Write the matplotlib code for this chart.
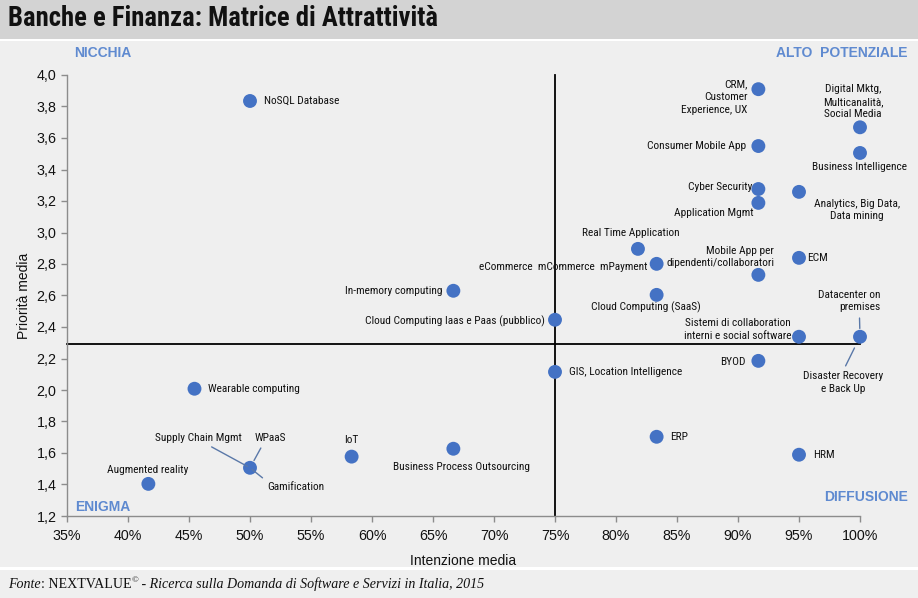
import matplotlib
matplotlib.use("Agg")
import matplotlib.pyplot as plt
from matplotlib.patches import Rectangle
from matplotlib.ticker import FuncFormatter, MultipleLocator
from matplotlib import font_manager as fm
from matplotlib.textpath import TextPath
from matplotlib.font_manager import FontProperties

# ---------------- data ----------------
names = [
    "NoSQL Database",
    "CRM,\nCustomer\nExperience, UX",
    "Digital Mktg,\nMulticanalità,\nSocial Media",
    "Consumer Mobile App",
    "Business Intelligence",
    "Cyber Security",
    "Application Mgmt",
    "Analytics, Big Data,\nData mining",
    "Real Time Application",
    "eCommerce  mCommerce  mPayment",
    "Mobile App per\ndipendenti/collaboratori",
    "ECM",
    "In-memory computing",
    "Cloud Computing (SaaS)",
    "Cloud Computing Iaas e Paas (pubblico)",
    "Sistemi di collaboration\ninterni e social software",
    "Datacenter on\npremises",
    "BYOD",
    "GIS, Location Intelligence",
    "Wearable computing",
    "ERP",
    "HRM",
    "Business Process Outsourcing",
    "IoT",
    "Augmented reality",
    "Supply Chain Mgmt",
]
intenzione = [50.0, 91.67, 100.0, 91.67, 100.0, 91.67, 91.67, 95.0, 81.8, 83.33,
              91.67, 95.0, 66.67, 83.33, 75.0, 95.0, 100.0, 91.67, 75.0, 45.45,
              83.33, 95.0, 66.67, 58.33, 41.67, 50.0]
priorita = [3.835, 3.91, 3.668, 3.549, 3.505, 3.276, 3.188, 3.258, 2.896, 2.801,
            2.731, 2.839, 2.63, 2.604, 2.446, 2.338, 2.338, 2.185, 2.115, 2.008,
            1.703, 1.589, 1.627, 1.577, 1.404, 1.506]
# extra labels sharing a point with another technology
shared_names = ["Disaster Recovery\ne Back Up", "WPaaS", "Gamification"]
shared_with = ["Datacenter on\npremises", "Supply Chain Mgmt", "Supply Chain Mgmt"]

media_intenzione = 75.0
media_priorita = 2.29

x_ticks = [35, 40, 45, 50, 55, 60, 65, 70, 75, 80, 85, 90, 95, 100]

# ---------------- layout (label offsets in pixels: dx, dy_up, ha) ----------------
label_layout = {
    "NoSQL Database": (14, 0, "left"),
    "CRM,\nCustomer\nExperience, UX": (-11, -8, "right"),
    "Digital Mktg,\nMulticanalità,\nSocial Media": (-7, 25.5, "center"),
    "Consumer Mobile App": (-12, 0, "right"),
    "Business Intelligence": (-1, -14, "center"),
    "Cyber Security": (-6, 2, "right"),
    "Application Mgmt": (-5, -10, "right"),
    "Analytics, Big Data,\nData mining": (58, -18, "center"),
    "Real Time Application": (-7, 16, "center"),
    "eCommerce  mCommerce  mPayment": (-9, -3, "right"),
    "Mobile App per\ndipendenti/collaboratori": (16, 18, "right"),
    "ECM": (8, 0, "left"),
    "In-memory computing": (-11, 0, "right"),
    "Cloud Computing (SaaS)": (-11, -12, "center"),
    "Cloud Computing Iaas e Paas (pubblico)": (-10, -1, "right"),
    "Sistemi di collaboration\ninterni e social software": (-8, 7, "right"),
    "Datacenter on\npremises": (20, 35.6, "right"),
    "BYOD": (-13, -1.5, "right"),
    "GIS, Location Intelligence": (14, 0, "left"),
    "Wearable computing": (14, 0, "left"),
    "ERP": (13, 0, "left"),
    "HRM": (14, 0, "left"),
    "Business Process Outsourcing": (8, -18, "center"),
    "IoT": (0, 17, "center"),
    "Augmented reality": (-1, 14, "center"),
    "Supply Chain Mgmt": (-52, 30, "center"),
    "Disaster Recovery\ne Back Up": (-17, -45.7, "center"),
    "WPaaS": (20, 30, "center"),
    "Gamification": (46, -19, "center"),
}
leaders = {  # relpos on text bbox, shrinkB
    "Datacenter on\npremises": ((0.67, 0.0), 6),
    "Disaster Recovery\ne Back Up": ((0.5, 1.0), 9),
    "Supply Chain Mgmt": ((0.57, 0.0), 2),
    "WPaaS": ((0.3, 0.0), 6),
    "Gamification": ((0.0, 1.0), 2),
}

W, H = 918, 598
BG = "#efefef"
BLUE = "#4472c4"
QBLUE = "#5f8ad0"
LEADER = "#5a78a8"

avail = {f.name for f in fm.fontManager.ttflist}
narrow_pref = ["Liberation Sans Narrow", "Arial Narrow", "Nimbus Sans Narrow",
               "Roboto Condensed", "Archivo Narrow", "PT Sans Narrow", "Liberation Sans"]
NARROW_NAME = next((f for f in narrow_pref if f in avail), "DejaVu Sans")
NARROW = [NARROW_NAME, "Liberation Sans", "DejaVu Sans"]
SANS = ["Liberation Sans", "DejaVu Sans"]
SERIF = ["Liberation Serif", "DejaVu Serif"]

fig = plt.figure(figsize=(W / 100, H / 100), dpi=100, facecolor=BG)
fig.canvas.draw()
r = fig.canvas.get_renderer()


def measure(text, fs, **kw):
    t = fig.text(0, 0, text, fontsize=fs, **kw)
    bb = t.get_window_extent(renderer=r)
    t.remove()
    return bb


def fit_size(text, target_px, **kw):
    return 10 * target_px / measure(text, 10, **kw).width


def cap_size(target_px, family, weight="normal"):
    tp = TextPath((0, 0), "H", size=10, prop=FontProperties(family=family, weight=weight))
    cap_pt = tp.get_extents().height  # cap height in points for a 10 pt font
    return 10 * (target_px * 0.72) / cap_pt


s_w = fit_size("Business Process Outsourcing", 132, family=NARROW)
s_h = cap_size(8.3, NARROW)
LABEL_FS = (s_w * s_h) ** 0.5
pitch1 = (measure("Ag\nAg", LABEL_FS, family=NARROW, linespacing=1.0).height
          - measure("Ag", LABEL_FS, family=NARROW, linespacing=1.0).height)
LINESP = 13.3 / pitch1
TITLE_FS = fit_size("Banche e Finanza: Matrice di Attrattività", 430, family=NARROW,
                    fontweight="bold")


def px(x, y):
    return x / W, 1 - y / H


# title bar
fig.patches.append(Rectangle((0, 1 - 39 / H), 1, 39 / H, transform=fig.transFigure,
                             facecolor="#d3d3d3", edgecolor="none", zorder=0))
fig.patches.append(Rectangle((0, 1 - 40.5 / H), 1, 1.5 / H, transform=fig.transFigure,
                             facecolor="white", edgecolor="none", zorder=0))
# footer separator
fig.patches.append(Rectangle((0, 1 - 570 / H), 1, 3 / H, transform=fig.transFigure,
                             facecolor="white", edgecolor="none", zorder=0))

fig.text(*px(8, 19), "Banche e Finanza: Matrice di Attrattività", family=NARROW,
         fontweight="bold", fontsize=TITLE_FS, ha="left", va="center", color="#111111")

ax = fig.add_axes([67 / W, 1 - 516 / H, (860 - 67) / W, (516 - 75) / H])
ax.set_facecolor(BG)
ax.set_xlim(35, 100)
ax.set_ylim(1.2, 4.0)
ax.set_xticks(x_ticks)
ax.xaxis.set_major_formatter(FuncFormatter(lambda v, p: f"{v:.0f}%"))
ax.yaxis.set_major_locator(MultipleLocator(0.2))
ax.yaxis.set_major_formatter(FuncFormatter(lambda v, p: f"{v:.1f}".replace(".", ",")))
for s in ["top", "right"]:
    ax.spines[s].set_visible(False)
for s in ["left", "bottom"]:
    ax.spines[s].set_color("#8c8c8c")
    ax.spines[s].set_linewidth(1.0)
ax.tick_params(axis="both", colors="#8c8c8c", length=4, width=1, labelcolor="#111111",
               labelsize=10.3, direction="out")
for lab in ax.get_xticklabels() + ax.get_yticklabels():
    lab.set_family(SANS)
ax.tick_params(axis="x", pad=5)

ax.set_xlabel("Intenzione media", family=SANS, fontsize=10, color="#111111", labelpad=8)
ax.set_ylabel("Priorità media", family=SANS, fontsize=10, color="#111111", labelpad=4)

# quadrant dividers
ax.plot([media_intenzione, media_intenzione], [1.2, 4.0], color="black", lw=1.3, zorder=2,
        clip_on=False)
ax.plot([35, 100], [media_priorita, media_priorita], color="black", lw=1.3, zorder=2,
        clip_on=False)

ax.scatter(intenzione, priorita, s=100, color=BLUE, zorder=4, clip_on=False,
           edgecolors="none")

pos = {n: (x, y) for n, x, y in zip(names, intenzione, priorita)}
all_labels = list(names) + list(shared_names)
anchor = dict(pos)
for n, w in zip(shared_names, shared_with):
    anchor[n] = pos[w]

for n in all_labels:
    dx, dy, ha = label_layout[n]
    kw = {}
    if n in leaders:
        rp, sb = leaders[n]
        kw["arrowprops"] = dict(arrowstyle="-", color=LEADER, lw=1.0, relpos=rp,
                                shrinkA=2, shrinkB=sb)
    ax.annotate(n, anchor[n], xytext=(dx, dy), textcoords="offset pixels",
                ha=ha, va="center", multialignment=ha, family=NARROW, fontsize=LABEL_FS,
                color="#111111", linespacing=LINESP, zorder=5, annotation_clip=False, **kw)

# quadrant names
qkw = dict(family=SANS, fontweight="bold", fontsize=10, color=QBLUE, va="center")
fig.text(*px(74, 53), "NICCHIA", ha="left", **qkw)
fig.text(*px(908, 53), "ALTO  POTENZIALE", ha="right", **qkw)
fig.text(*px(75, 507), "ENIGMA", ha="left", **qkw)
fig.text(*px(908, 497), "DIFFUSIONE", ha="right", **qkw)

# footer
x0 = 8
pieces = [("Fonte", "italic", 10.1, 0), (": NEXTVALUE", "normal", 10.1, 0),
          ("©", "normal", 6.5, 4),
          (" - Ricerca sulla Domanda di Software e Servizi in Italia, 2015", "italic", 10.1, 0)]
for txt, st, fs, rise in pieces:
    t = fig.text(*px(x0, 584 - rise), txt, family=SERIF, style=st, fontsize=fs,
                 ha="left", va="center", color="#111111")
    bb = t.get_window_extent(renderer=r)
    x0 += bb.width

fig.savefig("out.png", dpi=100, facecolor=BG)
